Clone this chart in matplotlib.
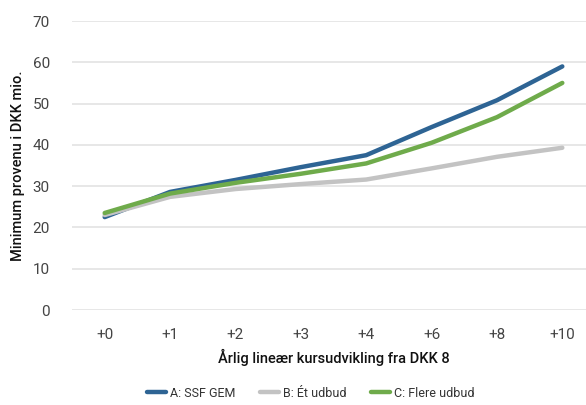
import matplotlib
matplotlib.use("Agg")
import matplotlib.pyplot as plt

plt.rcParams['font.family'] = ['Roboto', 'DejaVu Sans']

categories = ['+0', '+1', '+2', '+3', '+4', '+6', '+8', '+10']
ssf_gem = [22.5, 28.6, 31.5, 34.6, 37.5, 44.3, 50.8, 59.0]
et_udbud = [23.0, 27.4, 29.3, 30.5, 31.6, 34.3, 37.1, 39.3]
flere_udbud = [23.5, 28.2, 30.8, 33.0, 35.5, 40.5, 46.7, 55.0]

fig = plt.figure(figsize=(5.86, 4.05), dpi=100)
ax = fig.add_axes([72/586, 1 - 310/405, (595 - 72)/586, (310 - 21)/405])

x = range(len(categories))
ax.plot(x, ssf_gem, color='#2E6494', lw=3.2, label='A: SSF GEM', solid_capstyle='round')
ax.plot(x, et_udbud, color='#C3C3C3', lw=3.2, label='B: Ét udbud', solid_capstyle='round')
ax.plot(x, flere_udbud, color='#6FAB4B', lw=3.2, label='C: Flere udbud', solid_capstyle='round')

ax.set_xlim(-0.5, len(categories) - 0.5)
ax.set_ylim(0, 70)
ax.set_yticks(range(0, 71, 10))
ax.set_xticks(list(x))
ax.set_xticklabels(categories)
ax.grid(axis='y', color='#E3E3E3', lw=1.2)
ax.set_axisbelow(True)
for s in ax.spines.values():
    s.set_visible(False)
ax.tick_params(length=0, labelsize=11, labelcolor='#444444')
ax.tick_params(axis='x', pad=13)
ax.tick_params(axis='y', pad=16)

ax.set_xlabel('Årlig lineær kursudvikling fra DKK 8', fontsize=10.5, fontweight='medium',
              color='#111111', labelpad=5)
ax.set_ylabel('Minimum provenu i DKK mio.', fontsize=10.5, fontweight='medium',
              color='#111111', labelpad=5)

fig.legend(loc='lower center', bbox_to_anchor=(0.53, -0.015), ncol=3, frameon=False,
           fontsize=9, handlelength=1.5, handletextpad=0.3, columnspacing=2.0,
           labelcolor='#333333')

fig.savefig('out.png', dpi=100)
